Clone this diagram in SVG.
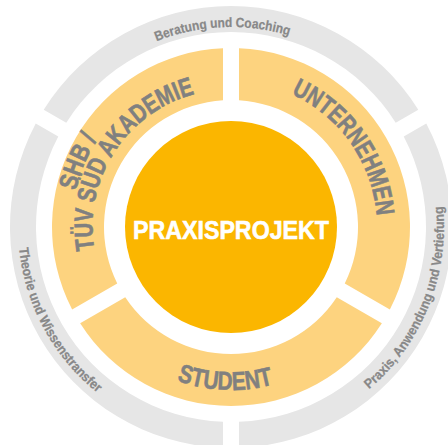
<svg xmlns="http://www.w3.org/2000/svg" xmlns:xlink="http://www.w3.org/1999/xlink" width="448" height="445" viewBox="0 0 448 445">
  <style>
    .gray { fill: #e6e6e6; }
    .seg { fill: #fdd37f; }
    .core { fill: #fbb600; }
    .big { font-family: "Liberation Sans Narrow", "Liberation Sans", Arial, sans-serif; font-weight: bold; font-size: 26px; fill: #808080; stroke: #808080; stroke-width: 0.6px; }
    .small { font-family: "Liberation Sans Narrow", "Liberation Sans", Arial, sans-serif; font-weight: bold; font-size: 13.5px; fill: #888888; stroke: #888888; stroke-width: 0.25px; }
    .title { font-family: "Liberation Sans Narrow", "Liberation Sans", Arial, sans-serif; font-weight: bold; font-size: 26px; fill: #ffffff; stroke: #ffffff; stroke-width: 0.6px; }
  </style>
  <defs>
    <path id="p-unt" d="M 218.27,81.56 A 146 146 0 0 1 363.32,288.70"/>
    <path id="p-stu" d="M 86.81,303.02 A 163 163 0 0 0 368.93,313.86"/>
    <path id="p-tuv" d="M 121.23,310.63 A 137 137 0 0 1 261.34,93.38"/>
    <path id="p-shb" d="M 78.87,273.22 A 160.5 160.5 0 0 1 158.38,83.83"/>
    <path id="p-ber" d="M 53.60,134.65 A 200 200 0 0 1 399.68,119.54"/>
    <path id="p-the" d="M 32.96,148.59 A 213 213 0 0 0 188.17,435.65"/>
    <path id="p-pra" d="M 260.64,437.93 A 213 213 0 0 0 398.85,95.86"/>
  </defs>

  <g id="beratung">
    <path class="gray" d="M 43.73,109.64 A 221 221 0 0 1 418.27,109.64 L 395.73,122.66 A 195 195 0 0 0 66.27,122.66 Z"/>
    <text class="small"><textPath href="#p-ber" xlink:href="#p-ber" startOffset="50%" text-anchor="middle" textLength="135" lengthAdjust="spacingAndGlyphs">Beratung und Coaching</textPath></text>
  </g>
  <g id="praxis-anwendung">
    <path class="gray" d="M 426.27,123.50 A 221 221 0 0 1 239,447.85 L 239,421.84 A 195 195 0 0 0 403.73,136.51 Z"/>
    <text class="small"><textPath href="#p-pra" xlink:href="#p-pra" startOffset="50%" text-anchor="middle" textLength="205" lengthAdjust="spacingAndGlyphs">Praxis, Anwendung und Vertiefung</textPath></text>
  </g>
  <g id="theorie">
    <path class="gray" d="M 223,447.85 A 221 221 0 0 1 35.73,123.50 L 58.27,136.51 A 195 195 0 0 0 223,421.84 Z"/>
    <text class="small"><textPath href="#p-the" xlink:href="#p-the" startOffset="50%" text-anchor="middle" textLength="169" lengthAdjust="spacingAndGlyphs">Theorie und Wissenstransfer</textPath></text>
  </g>

  <g id="unternehmen">
    <path class="seg" d="M 239,48.18 A 179 179 0 0 1 389.86,309.48 L 344.77,283.45 A 127 127 0 0 0 239,100.25 Z"/>
    <text class="big"><textPath href="#p-unt" xlink:href="#p-unt" startOffset="50%" text-anchor="middle" textLength="156" lengthAdjust="spacingAndGlyphs">UNTERNEHMEN</textPath></text>
  </g>
  <g id="student">
    <path class="seg" d="M 381.86,323.34 A 179 179 0 0 1 80.14,323.34 L 125.23,297.30 A 127 127 0 0 0 336.77,297.30 Z"/>
    <text class="big"><textPath href="#p-stu" xlink:href="#p-stu" startOffset="50%" text-anchor="middle" textLength="98" lengthAdjust="spacingAndGlyphs">STUDENT</textPath></text>
  </g>
  <g id="shb-tuev">
    <path class="seg" d="M 72.14,309.48 A 179 179 0 0 1 223,48.18 L 223,100.25 A 127 127 0 0 0 117.23,283.45 Z"/>
    <text class="big"><textPath href="#p-shb" xlink:href="#p-shb" startOffset="50%" text-anchor="middle" textLength="56" lengthAdjust="spacingAndGlyphs">SHB /</textPath></text>
    <text class="big"><textPath href="#p-tuv" xlink:href="#p-tuv" startOffset="50%" text-anchor="middle" textLength="203" lengthAdjust="spacingAndGlyphs">TÜV SÜD AKADEMIE</textPath></text>
  </g>

  <g id="praxisprojekt">
    <circle class="core" cx="231" cy="227" r="106"/>
    <text class="title" x="231" y="238.5" text-anchor="middle" textLength="196" lengthAdjust="spacingAndGlyphs">PRAXISPROJEKT</text>
  </g>
</svg>
